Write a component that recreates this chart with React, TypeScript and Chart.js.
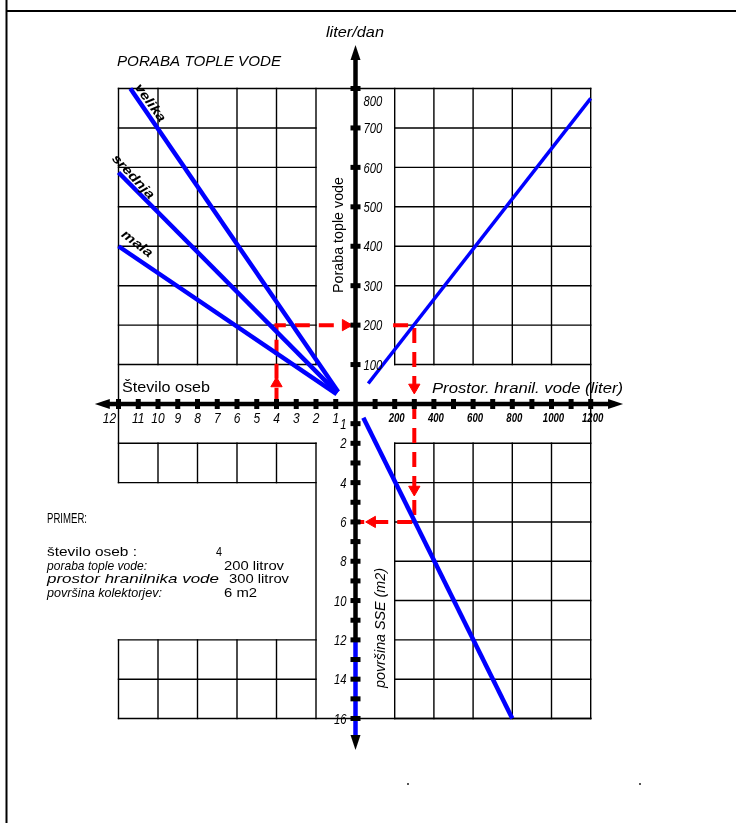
import React, { useEffect, useRef } from 'react';
import { Chart, registerables } from 'chart.js';

Chart.register(...registerables);

// ---------------- data ----------------
const personTicks = [1, 2, 3, 4, 5, 6, 7, 8, 9, 10, 11, 12];
const personGrid = [2, 4, 6, 8, 10, 12];
const storageTicks = [100, 200, 300, 400, 500, 600, 700, 800, 900, 1000, 1100, 1200];
const storageLabels = [200, 400, 600, 800, 1000, 1200];
const storageGrid = [200, 400, 600, 800, 1000, 1200];
const consumptionTicks = [100, 200, 300, 400, 500, 600, 700, 800];
const consumptionLabels = [100, 200, 300, 400, 500, 600, 700, 800];
const areaTicks = [1, 2, 3, 4, 5, 6, 7, 8, 9, 10, 11, 12, 13, 14, 15, 16];
const areaLabels = [1, 2, 4, 6, 8, 10, 12, 14, 16];
const areaGridTop = [2, 4];
const areaGridBottom = [12, 14, 16];
const areaGridRight = [2, 4, 6, 8, 10, 12, 14, 16];

// consumption lines (persons -> litres/day)
const velikaPersons = [11.4, 0.88];
const velikaLiters = [800, 31];
const srednjaPersons = [12, 0.92];
const srednjaLiters = [587, 28];
const malaPersons = [12, 0.95];
const malaLiters = [400, 25];
// storage line (storage litres -> litres/day)
const storageLineStorage = [65, 1200];
const storageLineConsumption = [52, 775];
// collector line (storage litres -> m2)
const areaLineStorage = [40, 800];
const areaLineArea = [0.7, 16];

// example path (4 persons -> 200 l -> 300 l -> 6 m2)
const exLeftPersons = [4, 4, 0.25];
const exLeftLiters = [3, 200, 200];
const exRight1Storage = [192, 300, 300];
const exRight1Liters = [200, 200, 0];
const exRight2Storage = [300, 300, 22];
const exRight2Area = [0, 6, 6];

const exampleLabels = ['število oseb :', 'poraba tople vode:', 'prostor hranilnika vode', 'površina kolektorjev:'];
const exampleValues = ['4', '200 litrov', '300 litrov', '6 m2'];

// ---------------- layout ----------------
const W = 736;
const H = 823;
const OX = 355.5;
const OY = 404;
const PX_PERSON = 19.75;
const PX_STORAGE = 0.196;
const PX_CONS = 0.394375;
const PX_AREA = 19.656;
const FONT = '"Liberation Sans", Arial, sans-serif';
const BLUE = '#0000ff';
const RED = '#ff0000';

function scaledText(ctx: any, s: string, x: number, y: number, font: string, align: string, opt: { width?: number; sx?: number; angle?: number }) {
  ctx.save();
  ctx.translate(x, y);
  if (opt.angle) ctx.rotate((opt.angle * Math.PI) / 180);
  ctx.font = font;
  ctx.textBaseline = 'middle';
  ctx.textAlign = 'left';
  const natural = ctx.measureText(s).width;
  const sx = opt.width ? opt.width / natural : opt.sx || 1;
  const w = natural * sx;
  let dx = 0;
  if (align === 'center') dx = -w / 2;
  else if (align === 'right') dx = -w;
  ctx.translate(dx, 0);
  ctx.scale(sx, 1);
  ctx.fillStyle = '#000';
  ctx.fillText(s, 0, 0);
  ctx.restore();
}

function seg(ctx: any, x1: number, y1: number, x2: number, y2: number) {
  ctx.beginPath();
  ctx.moveTo(x1, y1);
  ctx.lineTo(x2, y2);
  ctx.stroke();
}

function arrowHead(ctx: any, x: number, y: number, dir: string, len: number, half: number) {
  ctx.beginPath();
  if (dir === 'left') { ctx.moveTo(x, y); ctx.lineTo(x + len, y - half); ctx.lineTo(x + len, y + half); }
  if (dir === 'right') { ctx.moveTo(x, y); ctx.lineTo(x - len, y - half); ctx.lineTo(x - len, y + half); }
  if (dir === 'up') { ctx.moveTo(x, y); ctx.lineTo(x - half, y + len); ctx.lineTo(x + half, y + len); }
  if (dir === 'down') { ctx.moveTo(x, y); ctx.lineTo(x - half, y - len); ctx.lineTo(x + half, y - len); }
  ctx.closePath();
  ctx.fill();
}

const nomogramPlugin = {
  id: 'nomogram',
  beforeDraw(chart: any) {
    const ctx = chart.ctx;
    ctx.save();
    ctx.fillStyle = '#fff';
    ctx.fillRect(0, 0, W, H);
    ctx.restore();
  },
  beforeDatasetsDraw(chart: any) {
    const ctx = chart.ctx;
    const P = (v: number) => chart.scales.xP.getPixelForValue(v);
    const S = (v: number) => chart.scales.xS.getPixelForValue(v);
    const C = (v: number) => chart.scales.yC.getPixelForValue(v);
    const A = (v: number) => chart.scales.yA.getPixelForValue(v);
    ctx.save();
    ctx.strokeStyle = '#000';
    ctx.lineWidth = 1.4;
    ctx.lineCap = 'square';
    // upper-left grid
    consumptionTicks.forEach((c) => {
      if (c === 800) seg(ctx, P(12), C(c), S(1200), C(c));
      else seg(ctx, P(12), C(c), P(2), C(c));
    });
    personGrid.forEach((p) => {
      if (p === 12) seg(ctx, P(p), C(800), P(p), A(4));
      else seg(ctx, P(p), C(800), P(p), C(100));
    });
    // lower-left grids
    areaGridTop.forEach((a) => seg(ctx, P(12), A(a), P(2), A(a)));
    areaGridBottom.forEach((a) => {
      if (a === 16) seg(ctx, P(12), A(a), S(1200), A(a));
      else seg(ctx, P(12), A(a), P(2), A(a));
    });
    personGrid.forEach((p) => {
      if (p === 2) seg(ctx, P(p), A(2), P(p), A(16));
      else {
        if (p !== 12) seg(ctx, P(p), A(2), P(p), A(4));
        seg(ctx, P(p), A(12), P(p), A(16));
      }
    });
    // upper-right grid
    consumptionTicks.forEach((c) => {
      if (c !== 800) seg(ctx, S(200), C(c), S(1200), C(c));
    });
    storageGrid.forEach((s) => {
      if (s === 1200) seg(ctx, S(s), C(800), S(s), A(16));
      else seg(ctx, S(s), C(800), S(s), C(100));
    });
    // lower-right grid
    areaGridRight.forEach((a) => seg(ctx, S(200), A(a), S(1200), A(a)));
    storageGrid.forEach((s) => {
      if (s !== 1200) seg(ctx, S(s), A(2), S(s), A(16));
    });
    ctx.restore();
  },
  afterDatasetsDraw(chart: any) {
    const ctx = chart.ctx;
    const P = (v: number) => chart.scales.xP.getPixelForValue(v);
    const S = (v: number) => chart.scales.xS.getPixelForValue(v);
    const C = (v: number) => chart.scales.yC.getPixelForValue(v);
    const A = (v: number) => chart.scales.yA.getPixelForValue(v);
    const ox = P(0);
    const oy = C(0);
    ctx.save();
    // axes
    const xL = P(13.2);
    const xR = S(1365);
    const yT = C(910);
    const yB = A(17.6);
    ctx.lineCap = 'butt';
    ctx.lineWidth = 4.5;
    ctx.strokeStyle = '#000';
    seg(ctx, xL + 8, oy, xR - 8, oy);
    seg(ctx, ox, yT + 8, ox, A(12));
    ctx.strokeStyle = BLUE;
    seg(ctx, ox, A(12), ox, yB - 8);
    ctx.fillStyle = '#000';
    arrowHead(ctx, xL, oy, 'left', 15, 5);
    arrowHead(ctx, xR, oy, 'right', 15, 5);
    arrowHead(ctx, ox, yT, 'up', 15, 5);
    arrowHead(ctx, ox, yB, 'down', 15, 5);
    // ticks
    personTicks.forEach((p) => ctx.fillRect(P(p) - 2.5, oy - 5, 5, 10));
    storageTicks.forEach((s) => ctx.fillRect(S(s) - 2.5, oy - 5, 5, 10));
    consumptionTicks.forEach((c) => ctx.fillRect(ox - 5, C(c) - 2.5, 10, 5));
    areaTicks.forEach((a) => ctx.fillRect(ox - 5, A(a) - 2.5, 10, 5));

    // tick labels
    personTicks.forEach((p) => {
      const s = String(p);
      const x = p === 12 ? P(p) - 9 : P(p);
      scaledText(ctx, s, x, oy + 15, `italic 15px ${FONT}`, 'center', { sx: 0.8 });
    });
    storageLabels.forEach((s) => {
      scaledText(ctx, String(s), S(s) + 2, oy + 15, `italic bold 12px ${FONT}`, 'center', { sx: 0.8 });
    });
    consumptionLabels.forEach((c) => {
      const y = c === 800 ? C(c) + 13 : C(c) + 1;
      scaledText(ctx, String(c), ox + 8, y, `italic 15px ${FONT}`, 'left', { sx: 0.75 });
    });
    areaLabels.forEach((a) => {
      scaledText(ctx, String(a), ox - 9, A(a) + 1, `italic 15px ${FONT}`, 'right', { sx: 0.75 });
    });

    // titles
    scaledText(ctx, 'liter/dan', 355, 33, `italic 14px ${FONT}`, 'center', { width: 58 });
    scaledText(ctx, 'PORABA TOPLE VODE', 117, 62, `italic 14px ${FONT}`, 'left', { width: 164 });
    scaledText(ctx, 'Število oseb', 122, 388, `15px ${FONT}`, 'left', { width: 88 });
    scaledText(ctx, 'Prostor. hranil. vode (liter)', 432, 389, `italic 15px ${FONT}`, 'left', { width: 191 });
    scaledText(ctx, 'Poraba tople vode', 339, 235, `14px ${FONT}`, 'center', { width: 116, angle: -90 });
    scaledText(ctx, 'površina SSE (m2)', 381, 628, `italic 14px ${FONT}`, 'center', { width: 120, angle: -90 });
    scaledText(ctx, 'velika', 150, 103, `italic bold 13px ${FONT}`, 'center', { width: 44, angle: 54 });
    scaledText(ctx, 'srednja', 133, 177, `italic bold 13px ${FONT}`, 'center', { width: 56, angle: 47 });
    scaledText(ctx, 'mala', 137, 244, `italic bold 13px ${FONT}`, 'center', { width: 36, angle: 38 });

    // example block
    scaledText(ctx, 'PRIMER:', 47, 519, `14px ${FONT}`, 'left', { width: 40 });
    const rowY = [552, 566, 579, 593];
    const labelW = [90, 100, 172, 115];
    const valueX = [216, 224, 229, 224];
    const valueW = [6, 60, 60, 33];
    exampleLabels.forEach((s, i) => {
      scaledText(ctx, s, 47, rowY[i], `${i === 0 ? '' : 'italic '}13px ${FONT}`, 'left', { width: labelW[i] });
      scaledText(ctx, exampleValues[i], valueX[i], rowY[i], `13px ${FONT}`, 'left', { width: valueW[i] });
    });

    // frame
    ctx.strokeStyle = '#000';
    ctx.lineWidth = 2;
    seg(ctx, 6.5, 0, 6.5, H);
    seg(ctx, 6.5, 11, W, 11);
    ctx.fillStyle = '#555';
    ctx.fillRect(407, 783, 2, 2);
    ctx.fillRect(639, 783, 2, 2);
    ctx.restore();
  },
};

function pts(xs: number[], ys: number[]) {
  return xs.map((x, i) => ({ x, y: ys[i] }));
}

export default function App() {
  const ref = useRef<HTMLCanvasElement>(null);
  useEffect(() => {
    const canvas = ref.current;
    if (!canvas) return;
    const blueLine = (data: any[], xAxisID: string, yAxisID: string, width: number) => ({
      data,
      xAxisID,
      yAxisID,
      showLine: true,
      borderColor: BLUE,
      backgroundColor: BLUE,
      borderWidth: width,
      pointRadius: 0,
      pointHoverRadius: 0,
      borderCapStyle: 'butt',
    });
    const redLine = (data: any[], xAxisID: string, yAxisID: string, offset: number) => ({
      data,
      xAxisID,
      yAxisID,
      showLine: true,
      borderColor: RED,
      backgroundColor: RED,
      borderWidth: 4,
      borderDash: [15, 9],
      borderDashOffset: offset,
      borderJoinStyle: 'miter',
      borderCapStyle: 'butt',
      pointRadius: 0,
      pointHoverRadius: 0,
    });
    const redArrow = (x: number, y: number, xAxisID: string, yAxisID: string, rot: number) => ({
      data: [{ x, y }],
      xAxisID,
      yAxisID,
      showLine: false,
      pointStyle: 'triangle',
      pointRotation: rot,
      pointRadius: 6.5,
      pointHoverRadius: 6.5,
      pointBackgroundColor: RED,
      pointBorderColor: RED,
      backgroundColor: RED,
      borderColor: RED,
      pointBorderWidth: 1,
    });
    const chart = new Chart(canvas, {
      type: 'scatter',
      data: {
        datasets: [
          blueLine(pts(velikaPersons, velikaLiters), 'xP', 'yC', 4.5),
          blueLine(pts(srednjaPersons, srednjaLiters), 'xP', 'yC', 4.5),
          blueLine(pts(malaPersons, malaLiters), 'xP', 'yC', 4.5),
          blueLine(pts(storageLineStorage, storageLineConsumption), 'xS', 'yC', 3.5),
          blueLine(pts(areaLineStorage, areaLineArea), 'xS', 'yA', 4.5),
          redLine(pts(exLeftPersons, exLeftLiters), 'xP', 'yC', 0),
          redLine(pts(exRight1Storage, exRight1Liters), 'xS', 'yC', 0),
          redLine(pts(exRight2Storage, exRight2Area), 'xS', 'yA', 0),
          redArrow(4, 52, 'xP', 'yC', 0),
          redArrow(0.5, 200, 'xP', 'yC', 90),
          redArrow(300, 42, 'xS', 'yC', 180),
          redArrow(300, 4.35, 'xS', 'yA', 180),
          redArrow(85, 6, 'xS', 'yA', 270),
        ] as any,
      },
      options: {
        animation: false,
        responsive: false,
        maintainAspectRatio: false,
        devicePixelRatio: 1,
        events: [],
        layout: { padding: 0, autoPadding: false },
        plugins: { legend: { display: false }, tooltip: { enabled: false }, title: { display: false } },
        scales: {
          xP: { type: 'linear', axis: 'x', display: false, reverse: true, bounds: 'data', min: -(W - OX) / PX_PERSON, max: OX / PX_PERSON },
          xS: { type: 'linear', axis: 'x', display: false, bounds: 'data', min: -OX / PX_STORAGE, max: (W - OX) / PX_STORAGE },
          yC: { type: 'linear', axis: 'y', display: false, bounds: 'data', min: -(H - OY) / PX_CONS, max: OY / PX_CONS },
          yA: { type: 'linear', axis: 'y', display: false, reverse: true, bounds: 'data', min: -OY / PX_AREA, max: (H - OY) / PX_AREA },
        } as any,
      },
      plugins: [nomogramPlugin],
    } as any);
    return () => chart.destroy();
  }, []);
  return (
    <div style={{ position: 'fixed', left: 0, top: 0, width: W, height: H, background: '#fff' }}>
      <canvas ref={ref} width={W} height={H} style={{ display: 'block' }} />
    </div>
  );
}
